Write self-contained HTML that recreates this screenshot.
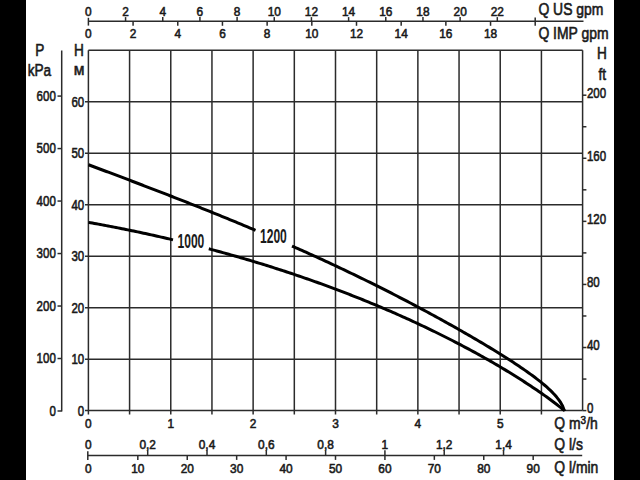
<!DOCTYPE html>
<html><head><meta charset="utf-8"><title>Pump curve</title>
<style>
html,body{margin:0;padding:0;background:#000;}
body{width:640px;height:480px;overflow:hidden;position:relative;}
#paper{position:absolute;left:26px;top:0;width:588px;height:480px;background:#fff;}
svg{position:absolute;left:0;top:0;}
text{font-family:"Liberation Sans",sans-serif;fill:#1a1a1a;}
</style></head><body>
<div id="paper"></div>
<svg width="640" height="480" viewBox="0 0 640 480">
<line x1="88.40" y1="50.30" x2="88.40" y2="414.40" stroke="#2b2b2b" stroke-width="1.5"/>
<line x1="129.58" y1="50.30" x2="129.58" y2="414.40" stroke="#2b2b2b" stroke-width="1.5"/>
<line x1="170.77" y1="50.30" x2="170.77" y2="414.40" stroke="#2b2b2b" stroke-width="1.5"/>
<line x1="211.95" y1="50.30" x2="211.95" y2="414.40" stroke="#2b2b2b" stroke-width="1.5"/>
<line x1="253.13" y1="50.30" x2="253.13" y2="414.40" stroke="#2b2b2b" stroke-width="1.5"/>
<line x1="294.32" y1="50.30" x2="294.32" y2="414.40" stroke="#2b2b2b" stroke-width="1.5"/>
<line x1="335.50" y1="50.30" x2="335.50" y2="414.40" stroke="#2b2b2b" stroke-width="1.5"/>
<line x1="376.68" y1="50.30" x2="376.68" y2="414.40" stroke="#2b2b2b" stroke-width="1.5"/>
<line x1="417.87" y1="50.30" x2="417.87" y2="414.40" stroke="#2b2b2b" stroke-width="1.5"/>
<line x1="459.05" y1="50.30" x2="459.05" y2="414.40" stroke="#2b2b2b" stroke-width="1.5"/>
<line x1="500.23" y1="50.30" x2="500.23" y2="414.40" stroke="#2b2b2b" stroke-width="1.5"/>
<line x1="541.42" y1="50.30" x2="541.42" y2="414.40" stroke="#2b2b2b" stroke-width="1.5"/>
<line x1="582.60" y1="50.30" x2="582.60" y2="410.60" stroke="#2b2b2b" stroke-width="1.5"/>
<line x1="85.00" y1="410.60" x2="582.60" y2="410.60" stroke="#2b2b2b" stroke-width="1.5"/>
<line x1="85.00" y1="359.13" x2="582.60" y2="359.13" stroke="#2b2b2b" stroke-width="1.5"/>
<line x1="85.00" y1="307.66" x2="582.60" y2="307.66" stroke="#2b2b2b" stroke-width="1.5"/>
<line x1="85.00" y1="256.19" x2="582.60" y2="256.19" stroke="#2b2b2b" stroke-width="1.5"/>
<line x1="85.00" y1="204.71" x2="582.60" y2="204.71" stroke="#2b2b2b" stroke-width="1.5"/>
<line x1="85.00" y1="153.24" x2="582.60" y2="153.24" stroke="#2b2b2b" stroke-width="1.5"/>
<line x1="85.00" y1="101.77" x2="582.60" y2="101.77" stroke="#2b2b2b" stroke-width="1.5"/>
<line x1="88.40" y1="50.30" x2="582.60" y2="50.30" stroke="#2b2b2b" stroke-width="1.5"/>
<text transform="translate(84.20,415.50) scale(0.822,1)" font-size="14.0" text-anchor="end" font-weight="normal" stroke="#1a1a1a" stroke-width="0.6">0</text>
<text transform="translate(84.20,364.03) scale(0.822,1)" font-size="14.0" text-anchor="end" font-weight="normal" stroke="#1a1a1a" stroke-width="0.6">10</text>
<text transform="translate(84.20,312.56) scale(0.822,1)" font-size="14.0" text-anchor="end" font-weight="normal" stroke="#1a1a1a" stroke-width="0.6">20</text>
<text transform="translate(84.20,261.09) scale(0.822,1)" font-size="14.0" text-anchor="end" font-weight="normal" stroke="#1a1a1a" stroke-width="0.6">30</text>
<text transform="translate(84.20,209.61) scale(0.822,1)" font-size="14.0" text-anchor="end" font-weight="normal" stroke="#1a1a1a" stroke-width="0.6">40</text>
<text transform="translate(84.20,158.14) scale(0.822,1)" font-size="14.0" text-anchor="end" font-weight="normal" stroke="#1a1a1a" stroke-width="0.6">50</text>
<text transform="translate(84.20,106.67) scale(0.822,1)" font-size="14.0" text-anchor="end" font-weight="normal" stroke="#1a1a1a" stroke-width="0.6">60</text>
<text transform="translate(88.40,428.20) scale(0.894,1)" font-size="13.3" text-anchor="middle" font-weight="normal" stroke="#1a1a1a" stroke-width="0.6">0</text>
<text transform="translate(170.77,428.20) scale(0.894,1)" font-size="13.3" text-anchor="middle" font-weight="normal" stroke="#1a1a1a" stroke-width="0.6">1</text>
<text transform="translate(253.13,428.20) scale(0.894,1)" font-size="13.3" text-anchor="middle" font-weight="normal" stroke="#1a1a1a" stroke-width="0.6">2</text>
<text transform="translate(335.50,428.20) scale(0.894,1)" font-size="13.3" text-anchor="middle" font-weight="normal" stroke="#1a1a1a" stroke-width="0.6">3</text>
<text transform="translate(417.87,428.20) scale(0.894,1)" font-size="13.3" text-anchor="middle" font-weight="normal" stroke="#1a1a1a" stroke-width="0.6">4</text>
<text transform="translate(500.23,428.20) scale(0.894,1)" font-size="13.3" text-anchor="middle" font-weight="normal" stroke="#1a1a1a" stroke-width="0.6">5</text>
<line x1="61.70" y1="50.60" x2="61.70" y2="411.60" stroke="#2b2b2b" stroke-width="1.5"/>
<line x1="57.50" y1="411.00" x2="61.70" y2="411.00" stroke="#2b2b2b" stroke-width="1.5"/>
<text transform="translate(55.80,415.90) scale(0.822,1)" font-size="14.0" text-anchor="end" font-weight="normal" stroke="#1a1a1a" stroke-width="0.6">0</text>
<line x1="57.50" y1="358.51" x2="61.70" y2="358.51" stroke="#2b2b2b" stroke-width="1.5"/>
<text transform="translate(55.80,363.41) scale(0.822,1)" font-size="14.0" text-anchor="end" font-weight="normal" stroke="#1a1a1a" stroke-width="0.6">100</text>
<line x1="57.50" y1="306.03" x2="61.70" y2="306.03" stroke="#2b2b2b" stroke-width="1.5"/>
<text transform="translate(55.80,310.93) scale(0.822,1)" font-size="14.0" text-anchor="end" font-weight="normal" stroke="#1a1a1a" stroke-width="0.6">200</text>
<line x1="57.50" y1="253.54" x2="61.70" y2="253.54" stroke="#2b2b2b" stroke-width="1.5"/>
<text transform="translate(55.80,258.44) scale(0.822,1)" font-size="14.0" text-anchor="end" font-weight="normal" stroke="#1a1a1a" stroke-width="0.6">300</text>
<line x1="57.50" y1="201.05" x2="61.70" y2="201.05" stroke="#2b2b2b" stroke-width="1.5"/>
<text transform="translate(55.80,205.95) scale(0.822,1)" font-size="14.0" text-anchor="end" font-weight="normal" stroke="#1a1a1a" stroke-width="0.6">400</text>
<line x1="57.50" y1="148.57" x2="61.70" y2="148.57" stroke="#2b2b2b" stroke-width="1.5"/>
<text transform="translate(55.80,153.47) scale(0.822,1)" font-size="14.0" text-anchor="end" font-weight="normal" stroke="#1a1a1a" stroke-width="0.6">500</text>
<line x1="57.50" y1="96.08" x2="61.70" y2="96.08" stroke="#2b2b2b" stroke-width="1.5"/>
<text transform="translate(55.80,100.98) scale(0.822,1)" font-size="14.0" text-anchor="end" font-weight="normal" stroke="#1a1a1a" stroke-width="0.6">600</text>
<line x1="582.60" y1="410.60" x2="586.40" y2="410.60" stroke="#2b2b2b" stroke-width="1.5"/>
<text transform="translate(586.90,413.00) scale(0.822,1)" font-size="14.0" text-anchor="start" font-weight="normal" stroke="#1a1a1a" stroke-width="0.6">0</text>
<line x1="582.60" y1="379.06" x2="586.40" y2="379.06" stroke="#2b2b2b" stroke-width="1.5"/>
<line x1="582.60" y1="347.52" x2="586.40" y2="347.52" stroke="#2b2b2b" stroke-width="1.5"/>
<text transform="translate(586.90,349.92) scale(0.822,1)" font-size="14.0" text-anchor="start" font-weight="normal" stroke="#1a1a1a" stroke-width="0.6">40</text>
<line x1="582.60" y1="315.98" x2="586.40" y2="315.98" stroke="#2b2b2b" stroke-width="1.5"/>
<line x1="582.60" y1="284.44" x2="586.40" y2="284.44" stroke="#2b2b2b" stroke-width="1.5"/>
<text transform="translate(586.90,286.84) scale(0.822,1)" font-size="14.0" text-anchor="start" font-weight="normal" stroke="#1a1a1a" stroke-width="0.6">80</text>
<line x1="582.60" y1="252.90" x2="586.40" y2="252.90" stroke="#2b2b2b" stroke-width="1.5"/>
<line x1="582.60" y1="221.36" x2="586.40" y2="221.36" stroke="#2b2b2b" stroke-width="1.5"/>
<text transform="translate(586.90,223.76) scale(0.822,1)" font-size="14.0" text-anchor="start" font-weight="normal" stroke="#1a1a1a" stroke-width="0.6">120</text>
<line x1="582.60" y1="189.82" x2="586.40" y2="189.82" stroke="#2b2b2b" stroke-width="1.5"/>
<line x1="582.60" y1="158.28" x2="586.40" y2="158.28" stroke="#2b2b2b" stroke-width="1.5"/>
<text transform="translate(586.90,160.68) scale(0.822,1)" font-size="14.0" text-anchor="start" font-weight="normal" stroke="#1a1a1a" stroke-width="0.6">160</text>
<line x1="582.60" y1="126.74" x2="586.40" y2="126.74" stroke="#2b2b2b" stroke-width="1.5"/>
<line x1="582.60" y1="95.20" x2="586.40" y2="95.20" stroke="#2b2b2b" stroke-width="1.5"/>
<text transform="translate(586.90,97.60) scale(0.822,1)" font-size="14.0" text-anchor="start" font-weight="normal" stroke="#1a1a1a" stroke-width="0.6">200</text>
<line x1="88.40" y1="21.30" x2="583.50" y2="21.30" stroke="#2b2b2b" stroke-width="1.5"/>
<line x1="88.40" y1="17.80" x2="88.40" y2="25.60" stroke="#2b2b2b" stroke-width="1.5"/>
<line x1="535.20" y1="17.50" x2="535.20" y2="25.80" stroke="#2b2b2b" stroke-width="1.5"/>
<line x1="125.57" y1="17.10" x2="125.57" y2="21.30" stroke="#2b2b2b" stroke-width="1.5"/>
<line x1="162.75" y1="17.10" x2="162.75" y2="21.30" stroke="#2b2b2b" stroke-width="1.5"/>
<line x1="199.92" y1="17.10" x2="199.92" y2="21.30" stroke="#2b2b2b" stroke-width="1.5"/>
<line x1="237.09" y1="17.10" x2="237.09" y2="21.30" stroke="#2b2b2b" stroke-width="1.5"/>
<line x1="274.26" y1="17.10" x2="274.26" y2="21.30" stroke="#2b2b2b" stroke-width="1.5"/>
<line x1="311.44" y1="17.10" x2="311.44" y2="21.30" stroke="#2b2b2b" stroke-width="1.5"/>
<line x1="348.61" y1="17.10" x2="348.61" y2="21.30" stroke="#2b2b2b" stroke-width="1.5"/>
<line x1="385.78" y1="17.10" x2="385.78" y2="21.30" stroke="#2b2b2b" stroke-width="1.5"/>
<line x1="422.95" y1="17.10" x2="422.95" y2="21.30" stroke="#2b2b2b" stroke-width="1.5"/>
<line x1="460.13" y1="17.10" x2="460.13" y2="21.30" stroke="#2b2b2b" stroke-width="1.5"/>
<line x1="497.30" y1="17.10" x2="497.30" y2="21.30" stroke="#2b2b2b" stroke-width="1.5"/>
<text transform="translate(88.40,16.00) scale(0.894,1)" font-size="13.3" text-anchor="middle" font-weight="normal" stroke="#1a1a1a" stroke-width="0.6">0</text>
<text transform="translate(125.57,16.00) scale(0.894,1)" font-size="13.3" text-anchor="middle" font-weight="normal" stroke="#1a1a1a" stroke-width="0.6">2</text>
<text transform="translate(162.75,16.00) scale(0.894,1)" font-size="13.3" text-anchor="middle" font-weight="normal" stroke="#1a1a1a" stroke-width="0.6">4</text>
<text transform="translate(199.92,16.00) scale(0.894,1)" font-size="13.3" text-anchor="middle" font-weight="normal" stroke="#1a1a1a" stroke-width="0.6">6</text>
<text transform="translate(237.09,16.00) scale(0.894,1)" font-size="13.3" text-anchor="middle" font-weight="normal" stroke="#1a1a1a" stroke-width="0.6">8</text>
<text transform="translate(274.26,16.00) scale(0.894,1)" font-size="13.3" text-anchor="middle" font-weight="normal" stroke="#1a1a1a" stroke-width="0.6">10</text>
<text transform="translate(311.44,16.00) scale(0.894,1)" font-size="13.3" text-anchor="middle" font-weight="normal" stroke="#1a1a1a" stroke-width="0.6">12</text>
<text transform="translate(348.61,16.00) scale(0.894,1)" font-size="13.3" text-anchor="middle" font-weight="normal" stroke="#1a1a1a" stroke-width="0.6">14</text>
<text transform="translate(385.78,16.00) scale(0.894,1)" font-size="13.3" text-anchor="middle" font-weight="normal" stroke="#1a1a1a" stroke-width="0.6">16</text>
<text transform="translate(422.95,16.00) scale(0.894,1)" font-size="13.3" text-anchor="middle" font-weight="normal" stroke="#1a1a1a" stroke-width="0.6">18</text>
<text transform="translate(460.13,16.00) scale(0.894,1)" font-size="13.3" text-anchor="middle" font-weight="normal" stroke="#1a1a1a" stroke-width="0.6">20</text>
<text transform="translate(497.30,16.00) scale(0.894,1)" font-size="13.3" text-anchor="middle" font-weight="normal" stroke="#1a1a1a" stroke-width="0.6">22</text>
<line x1="133.08" y1="21.30" x2="133.08" y2="25.80" stroke="#2b2b2b" stroke-width="1.5"/>
<line x1="177.77" y1="21.30" x2="177.77" y2="25.80" stroke="#2b2b2b" stroke-width="1.5"/>
<line x1="222.45" y1="21.30" x2="222.45" y2="25.80" stroke="#2b2b2b" stroke-width="1.5"/>
<line x1="267.13" y1="21.30" x2="267.13" y2="25.80" stroke="#2b2b2b" stroke-width="1.5"/>
<line x1="311.82" y1="21.30" x2="311.82" y2="25.80" stroke="#2b2b2b" stroke-width="1.5"/>
<line x1="356.50" y1="21.30" x2="356.50" y2="25.80" stroke="#2b2b2b" stroke-width="1.5"/>
<line x1="401.18" y1="21.30" x2="401.18" y2="25.80" stroke="#2b2b2b" stroke-width="1.5"/>
<line x1="445.87" y1="21.30" x2="445.87" y2="25.80" stroke="#2b2b2b" stroke-width="1.5"/>
<line x1="490.55" y1="21.30" x2="490.55" y2="25.80" stroke="#2b2b2b" stroke-width="1.5"/>
<text transform="translate(88.40,38.00) scale(0.894,1)" font-size="13.3" text-anchor="middle" font-weight="normal" stroke="#1a1a1a" stroke-width="0.6">0</text>
<text transform="translate(133.08,38.00) scale(0.894,1)" font-size="13.3" text-anchor="middle" font-weight="normal" stroke="#1a1a1a" stroke-width="0.6">2</text>
<text transform="translate(177.77,38.00) scale(0.894,1)" font-size="13.3" text-anchor="middle" font-weight="normal" stroke="#1a1a1a" stroke-width="0.6">4</text>
<text transform="translate(222.45,38.00) scale(0.894,1)" font-size="13.3" text-anchor="middle" font-weight="normal" stroke="#1a1a1a" stroke-width="0.6">6</text>
<text transform="translate(267.13,38.00) scale(0.894,1)" font-size="13.3" text-anchor="middle" font-weight="normal" stroke="#1a1a1a" stroke-width="0.6">8</text>
<text transform="translate(311.82,38.00) scale(0.894,1)" font-size="13.3" text-anchor="middle" font-weight="normal" stroke="#1a1a1a" stroke-width="0.6">10</text>
<text transform="translate(356.50,38.00) scale(0.894,1)" font-size="13.3" text-anchor="middle" font-weight="normal" stroke="#1a1a1a" stroke-width="0.6">12</text>
<text transform="translate(401.18,38.00) scale(0.894,1)" font-size="13.3" text-anchor="middle" font-weight="normal" stroke="#1a1a1a" stroke-width="0.6">14</text>
<text transform="translate(445.87,38.00) scale(0.894,1)" font-size="13.3" text-anchor="middle" font-weight="normal" stroke="#1a1a1a" stroke-width="0.6">16</text>
<text transform="translate(490.55,38.00) scale(0.894,1)" font-size="13.3" text-anchor="middle" font-weight="normal" stroke="#1a1a1a" stroke-width="0.6">18</text>
<line x1="87.80" y1="455.60" x2="582.20" y2="455.60" stroke="#2b2b2b" stroke-width="1.5"/>
<line x1="87.80" y1="451.20" x2="87.80" y2="460.00" stroke="#2b2b2b" stroke-width="1.5"/>
<line x1="147.70" y1="450.30" x2="147.70" y2="455.60" stroke="#2b2b2b" stroke-width="1.5"/>
<line x1="207.01" y1="450.30" x2="207.01" y2="455.60" stroke="#2b2b2b" stroke-width="1.5"/>
<line x1="266.31" y1="450.30" x2="266.31" y2="455.60" stroke="#2b2b2b" stroke-width="1.5"/>
<line x1="325.62" y1="450.30" x2="325.62" y2="455.60" stroke="#2b2b2b" stroke-width="1.5"/>
<line x1="384.92" y1="450.30" x2="384.92" y2="455.60" stroke="#2b2b2b" stroke-width="1.5"/>
<line x1="444.22" y1="450.30" x2="444.22" y2="455.60" stroke="#2b2b2b" stroke-width="1.5"/>
<line x1="503.53" y1="450.30" x2="503.53" y2="455.60" stroke="#2b2b2b" stroke-width="1.5"/>
<text transform="translate(88.40,448.70) scale(0.894,1)" font-size="13.3" text-anchor="middle" font-weight="normal" stroke="#1a1a1a" stroke-width="0.6">0</text>
<text transform="translate(147.70,448.70) scale(0.894,1)" font-size="13.3" text-anchor="middle" font-weight="normal" stroke="#1a1a1a" stroke-width="0.6">0,2</text>
<text transform="translate(207.01,448.70) scale(0.894,1)" font-size="13.3" text-anchor="middle" font-weight="normal" stroke="#1a1a1a" stroke-width="0.6">0,4</text>
<text transform="translate(266.31,448.70) scale(0.894,1)" font-size="13.3" text-anchor="middle" font-weight="normal" stroke="#1a1a1a" stroke-width="0.6">0,6</text>
<text transform="translate(325.62,448.70) scale(0.894,1)" font-size="13.3" text-anchor="middle" font-weight="normal" stroke="#1a1a1a" stroke-width="0.6">0,8</text>
<text transform="translate(384.92,448.70) scale(0.894,1)" font-size="13.3" text-anchor="middle" font-weight="normal" stroke="#1a1a1a" stroke-width="0.6">1</text>
<text transform="translate(444.22,448.70) scale(0.894,1)" font-size="13.3" text-anchor="middle" font-weight="normal" stroke="#1a1a1a" stroke-width="0.6">1,2</text>
<text transform="translate(503.53,448.70) scale(0.894,1)" font-size="13.3" text-anchor="middle" font-weight="normal" stroke="#1a1a1a" stroke-width="0.6">1,4</text>
<line x1="137.82" y1="455.60" x2="137.82" y2="459.90" stroke="#2b2b2b" stroke-width="1.5"/>
<line x1="187.24" y1="455.60" x2="187.24" y2="459.90" stroke="#2b2b2b" stroke-width="1.5"/>
<line x1="236.66" y1="455.60" x2="236.66" y2="459.90" stroke="#2b2b2b" stroke-width="1.5"/>
<line x1="286.08" y1="455.60" x2="286.08" y2="459.90" stroke="#2b2b2b" stroke-width="1.5"/>
<line x1="335.50" y1="455.60" x2="335.50" y2="459.90" stroke="#2b2b2b" stroke-width="1.5"/>
<line x1="384.92" y1="455.60" x2="384.92" y2="459.90" stroke="#2b2b2b" stroke-width="1.5"/>
<line x1="434.34" y1="455.60" x2="434.34" y2="459.90" stroke="#2b2b2b" stroke-width="1.5"/>
<line x1="483.76" y1="455.60" x2="483.76" y2="459.90" stroke="#2b2b2b" stroke-width="1.5"/>
<line x1="533.18" y1="455.60" x2="533.18" y2="459.90" stroke="#2b2b2b" stroke-width="1.5"/>
<text transform="translate(88.40,473.00) scale(0.894,1)" font-size="13.3" text-anchor="middle" font-weight="normal" stroke="#1a1a1a" stroke-width="0.6">0</text>
<text transform="translate(137.82,473.00) scale(0.894,1)" font-size="13.3" text-anchor="middle" font-weight="normal" stroke="#1a1a1a" stroke-width="0.6">10</text>
<text transform="translate(187.24,473.00) scale(0.894,1)" font-size="13.3" text-anchor="middle" font-weight="normal" stroke="#1a1a1a" stroke-width="0.6">20</text>
<text transform="translate(236.66,473.00) scale(0.894,1)" font-size="13.3" text-anchor="middle" font-weight="normal" stroke="#1a1a1a" stroke-width="0.6">30</text>
<text transform="translate(286.08,473.00) scale(0.894,1)" font-size="13.3" text-anchor="middle" font-weight="normal" stroke="#1a1a1a" stroke-width="0.6">40</text>
<text transform="translate(335.50,473.00) scale(0.894,1)" font-size="13.3" text-anchor="middle" font-weight="normal" stroke="#1a1a1a" stroke-width="0.6">50</text>
<text transform="translate(384.92,473.00) scale(0.894,1)" font-size="13.3" text-anchor="middle" font-weight="normal" stroke="#1a1a1a" stroke-width="0.6">60</text>
<text transform="translate(434.34,473.00) scale(0.894,1)" font-size="13.3" text-anchor="middle" font-weight="normal" stroke="#1a1a1a" stroke-width="0.6">70</text>
<text transform="translate(483.76,473.00) scale(0.894,1)" font-size="13.3" text-anchor="middle" font-weight="normal" stroke="#1a1a1a" stroke-width="0.6">80</text>
<text transform="translate(533.18,473.00) scale(0.894,1)" font-size="13.3" text-anchor="middle" font-weight="normal" stroke="#1a1a1a" stroke-width="0.6">90</text>
<text transform="translate(538.40,14.50) scale(0.87,1)" font-size="16.0" text-anchor="start" font-weight="normal" stroke="#1a1a1a" stroke-width="0.6">Q US gpm</text>
<text transform="translate(538.40,39.20) scale(0.87,1)" font-size="16.0" text-anchor="start" font-weight="normal" stroke="#1a1a1a" stroke-width="0.6">Q IMP gpm</text>
<text transform="translate(554.30,428.80) scale(0.87,1)" font-size="16.0" text-anchor="start" font-weight="normal" stroke="#1a1a1a" stroke-width="0.6">Q m<tspan font-size="11.5" dy="-5.2">3</tspan><tspan dy="5.2">/h</tspan></text>
<text transform="translate(554.30,450.20) scale(0.87,1)" font-size="16.0" text-anchor="start" font-weight="normal" stroke="#1a1a1a" stroke-width="0.6">Q l/s</text>
<text transform="translate(554.30,473.30) scale(0.87,1)" font-size="16.0" text-anchor="start" font-weight="normal" stroke="#1a1a1a" stroke-width="0.6">Q l/min</text>
<text transform="translate(39.90,55.60) scale(0.83,1)" font-size="16.4" text-anchor="middle" font-weight="normal" stroke="#1a1a1a" stroke-width="0.6">P</text>
<text transform="translate(39.40,75.50) scale(0.83,1)" font-size="16.4" text-anchor="middle" font-weight="normal" stroke="#1a1a1a" stroke-width="0.6">kPa</text>
<text transform="translate(78.90,55.60) scale(0.83,1)" font-size="16.4" text-anchor="middle" font-weight="normal" stroke="#1a1a1a" stroke-width="0.6">H</text>
<text transform="translate(79.10,75.30) scale(0.93,1)" font-size="16.8" text-anchor="middle" font-weight="normal" stroke="#1a1a1a" stroke-width="0.6">м</text>
<text transform="translate(601.90,59.40) scale(0.83,1)" font-size="16.4" text-anchor="middle" font-weight="normal" stroke="#1a1a1a" stroke-width="0.6">H</text>
<text transform="translate(602.20,79.60) scale(0.83,1)" font-size="16.4" text-anchor="middle" font-weight="normal" stroke="#1a1a1a" stroke-width="0.6">ft</text>
<clipPath id="cp"><rect x="80" y="40" width="510" height="371.4"/></clipPath><g clip-path="url(#cp)">
<path d="M88.50,164.78 L90.49,165.52 L92.48,166.26 L94.46,167.01 L96.45,167.75 L98.44,168.49 L100.43,169.24 L102.42,169.98 L104.40,170.73 L106.39,171.47 L108.38,172.22 L110.37,172.97 L112.36,173.71 L114.35,174.46 L116.33,175.21 L118.32,175.96 L120.31,176.71 L122.30,177.46 L124.29,178.21 L126.27,178.97 L128.26,179.72 L130.25,180.47 L132.24,181.23 L134.23,181.98 L136.21,182.74 L138.20,183.50 L140.19,184.26 L142.18,185.02 L144.17,185.78 L146.15,186.54 L148.14,187.30 L150.13,188.06 L152.12,188.82 L154.11,189.59 L156.10,190.35 L158.08,191.12 L160.07,191.89 L162.06,192.66 L164.05,193.43 L166.04,194.20 L168.02,194.97 L170.01,195.74 L172.00,196.52 L173.99,197.29 L175.98,198.07 L177.96,198.84 L179.95,199.62 L181.94,200.40 L183.93,201.18 L185.92,201.97 L187.90,202.75 L189.89,203.54 L191.88,204.32 L193.87,205.11 L195.86,205.90 L197.85,206.69 L199.83,207.48 L201.82,208.27 L203.81,209.07 L205.80,209.86 L207.79,210.66 L209.77,211.46 L211.76,212.26 L213.75,213.06 L215.74,213.86 L217.73,214.67 L219.71,215.47 L221.70,216.28 L223.69,217.09 L225.68,217.90 L227.67,218.71 L229.65,219.53 L231.64,220.34 L233.63,221.16 L235.62,221.98 L237.61,222.80 L239.60,223.63 L241.58,224.45 L243.57,225.28 L245.56,226.10 L247.55,226.93 L249.54,227.77 L251.52,228.60 L253.51,229.44 L255.50,230.27" fill="none" stroke="#000" stroke-width="3.0" stroke-linejoin="round"/>
<path d="M292.00,246.01 L293.99,246.89 L295.98,247.77 L297.97,248.66 L299.96,249.54 L301.95,250.43 L303.94,251.32 L305.93,252.22 L307.92,253.11 L309.91,254.01 L311.90,254.91 L313.89,255.82 L315.88,256.72 L317.87,257.63 L319.86,258.54 L321.85,259.45 L323.84,260.37 L325.83,261.29 L327.82,262.21 L329.81,263.14 L331.80,264.06 L333.79,264.99 L335.78,265.92 L337.76,266.86 L339.75,267.80 L341.74,268.74 L343.73,269.68 L345.72,270.63 L347.71,271.58 L349.70,272.53 L351.69,273.48 L353.68,274.44 L355.67,275.40 L357.66,276.37 L359.65,277.33 L361.64,278.30 L363.63,279.27 L365.62,280.25 L367.61,281.23 L369.60,282.21 L371.59,283.20 L373.58,284.18 L375.57,285.17 L377.56,286.17 L379.55,287.16 L381.54,288.16 L383.53,289.17 L385.52,290.17 L387.51,291.18 L389.50,292.20 L391.49,293.21 L393.48,294.23 L395.47,295.25 L397.46,296.28 L399.45,297.31 L401.44,298.34 L403.43,299.37 L405.42,300.41 L407.41,301.45 L409.40,302.50 L411.39,303.54 L413.38,304.59 L415.37,305.65 L417.36,306.71 L419.35,307.77 L421.34,308.83 L423.33,309.90 L425.32,310.97 L427.31,312.04 L429.29,313.12 L431.28,314.20 L433.27,315.28 L435.26,316.37 L437.25,317.46 L439.24,318.55 L441.23,319.65 L443.22,320.75 L445.21,321.85 L447.20,322.96 L449.19,324.07 L451.18,325.18 L453.17,326.30 L455.16,327.42 L457.15,328.55 L459.14,329.68 L461.13,330.81 L463.12,331.95 L465.11,333.09 L467.10,334.24 L469.09,335.39 L471.08,336.54 L473.07,337.70 L475.06,338.86 L477.05,340.03 L479.04,341.21 L481.03,342.38 L483.02,343.57 L485.01,344.75 L487.00,345.95 L488.99,347.15 L490.98,348.35 L492.97,349.57 L494.96,350.78 L496.95,352.01 L498.94,353.24 L500.93,354.48 L502.92,355.73 L504.91,356.98 L506.90,358.25 L508.89,359.52 L510.88,360.80 L512.87,362.10 L514.86,363.40 L516.85,364.72 L518.84,366.05 L520.82,367.39 L522.81,368.75 L524.80,370.13 L526.79,371.52 L528.78,372.93 L530.77,374.37 L532.76,375.83 L534.75,377.31 L536.74,378.82 L538.73,380.37 L540.72,381.95 L542.71,383.58 L544.70,385.25 L546.69,386.99 L548.68,388.79 L550.67,390.67 L552.66,392.66 L554.65,394.77 L556.64,397.06 L558.63,399.58 L560.62,402.46 L562.61,405.98 L564.60,411.21" fill="none" stroke="#000" stroke-width="3.0" stroke-linejoin="round"/>
<path d="M88.50,222.36 L90.47,222.71 L92.43,223.06 L94.40,223.42 L96.36,223.77 L98.33,224.14 L100.29,224.50 L102.26,224.86 L104.22,225.23 L106.19,225.60 L108.15,225.98 L110.12,226.35 L112.08,226.73 L114.05,227.11 L116.01,227.50 L117.98,227.88 L119.94,228.27 L121.91,228.67 L123.87,229.06 L125.84,229.46 L127.80,229.86 L129.77,230.26 L131.73,230.67 L133.70,231.08 L135.66,231.49 L137.63,231.90 L139.59,232.32 L141.56,232.74 L143.52,233.16 L145.49,233.59 L147.45,234.02 L149.42,234.45 L151.38,234.88 L153.35,235.32 L155.31,235.76 L157.28,236.20 L159.24,236.64 L161.21,237.09 L163.17,237.54 L165.14,237.99 L167.10,238.45 L169.07,238.91 L171.03,239.37 L173.00,239.84" fill="none" stroke="#000" stroke-width="3.0" stroke-linejoin="round"/>
<path d="M208.80,248.82 L210.80,249.35 L212.80,249.88 L214.80,250.42 L216.80,250.96 L218.80,251.51 L220.80,252.05 L222.80,252.60 L224.80,253.16 L226.80,253.71 L228.80,254.27 L230.80,254.84 L232.80,255.40 L234.80,255.97 L236.80,256.54 L238.80,257.12 L240.80,257.70 L242.80,258.28 L244.80,258.87 L246.80,259.46 L248.80,260.05 L250.80,260.65 L252.80,261.25 L254.80,261.85 L256.80,262.45 L258.80,263.06 L260.80,263.68 L262.80,264.29 L264.80,264.91 L266.80,265.54 L268.80,266.16 L270.80,266.79 L272.80,267.43 L274.80,268.06 L276.80,268.70 L278.80,269.35 L280.80,269.99 L282.80,270.65 L284.80,271.30 L286.80,271.96 L288.80,272.62 L290.80,273.29 L292.80,273.95 L294.80,274.63 L296.80,275.30 L298.80,275.98 L300.80,276.67 L302.80,277.35 L304.80,278.05 L306.80,278.74 L308.80,279.44 L310.80,280.14 L312.80,280.85 L314.80,281.56 L316.80,282.27 L318.80,282.99 L320.80,283.71 L322.80,284.43 L324.80,285.16 L326.80,285.89 L328.80,286.63 L330.80,287.37 L332.80,288.11 L334.80,288.86 L336.80,289.61 L338.80,290.37 L340.80,291.13 L342.80,291.89 L344.80,292.66 L346.80,293.43 L348.80,294.21 L350.80,294.99 L352.80,295.78 L354.80,296.56 L356.80,297.36 L358.80,298.15 L360.80,298.95 L362.80,299.76 L364.80,300.57 L366.80,301.38 L368.80,302.20 L370.80,303.02 L372.80,303.85 L374.80,304.68 L376.80,305.51 L378.80,306.35 L380.80,307.20 L382.80,308.05 L384.80,308.90 L386.80,309.76 L388.80,310.62 L390.80,311.49 L392.80,312.36 L394.80,313.23 L396.80,314.11 L398.80,315.00 L400.80,315.89 L402.80,316.78 L404.80,317.68 L406.80,318.59 L408.80,319.49 L410.80,320.41 L412.80,321.33 L414.80,322.25 L416.80,323.18 L418.80,324.11 L420.80,325.05 L422.80,325.99 L424.80,326.94 L426.80,327.90 L428.80,328.85 L430.80,329.82 L432.80,330.79 L434.80,331.76 L436.80,332.74 L438.80,333.73 L440.80,334.72 L442.80,335.72 L444.80,336.72 L446.80,337.72 L448.80,338.74 L450.80,339.76 L452.80,340.78 L454.80,341.81 L456.80,342.85 L458.80,343.89 L460.80,344.94 L462.80,345.99 L464.80,347.05 L466.80,348.12 L468.80,349.19 L470.80,350.27 L472.80,351.35 L474.80,352.44 L476.80,353.54 L478.80,354.65 L480.80,355.76 L482.80,356.88 L484.80,358.00 L486.80,359.13 L488.80,360.27 L490.80,361.42 L492.80,362.57 L494.80,363.73 L496.80,364.90 L498.80,366.08 L500.80,367.26 L502.80,368.45 L504.80,369.65 L506.80,370.86 L508.80,372.07 L510.80,373.30 L512.80,374.53 L514.80,375.77 L516.80,377.02 L518.80,378.28 L520.80,379.55 L522.80,380.83 L524.80,382.12 L526.80,383.42 L528.80,384.73 L530.80,386.05 L532.80,387.38 L534.80,388.73 L536.80,390.09 L538.80,391.45 L540.80,392.84 L542.80,394.23 L544.80,395.65 L546.80,397.07 L548.80,398.52 L550.80,399.98 L552.80,401.46 L554.80,402.97 L556.80,404.50 L558.80,406.06 L560.80,407.65 L562.80,409.30 L564.80,411.06" fill="none" stroke="#000" stroke-width="3.0" stroke-linejoin="round"/>
</g>
<text transform="translate(190.90,247.70) scale(0.585,1)" font-size="20.7" text-anchor="middle" font-weight="bold" fill="#111">1000</text>
<text transform="translate(273.40,243.20) scale(0.585,1)" font-size="20.7" text-anchor="middle" font-weight="bold" fill="#111">1200</text>
</svg>
</body></html>
